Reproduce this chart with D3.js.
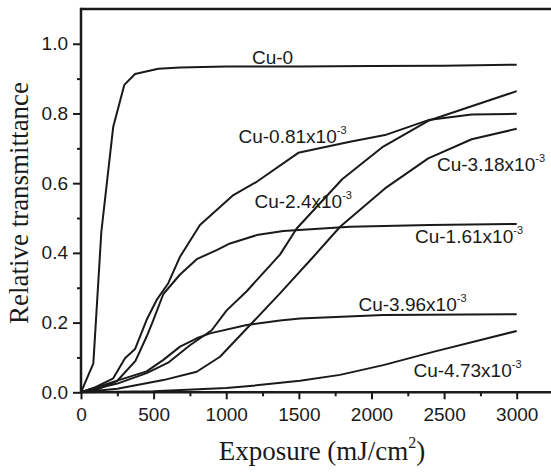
<!DOCTYPE html>
<html>
<head>
<meta charset="utf-8">
<script src="https://cdn.jsdelivr.net/npm/d3@7"></script>
<style>
  html, body { margin: 0; padding: 0; background: #fff; }
  svg { display: block; }
</style>
</head>
<body>
<svg id="chart" width="551" height="472"></svg>
<script>
// ---- Data ----
const seriesNames = ["Cu-0", "Cu-0.81", "Cu-1.61", "Cu-2.4", "Cu-3.18", "Cu-3.96", "Cu-4.73"];

const cu0_x = [0, 85, 140, 222, 298, 372, 532, 682, 1000, 1500, 2000, 2500, 3000];
const cu0_y = [0, 0.083, 0.46, 0.762, 0.882, 0.913, 0.928, 0.932, 0.935, 0.935, 0.936, 0.937, 0.94];

const cu081_x = [0, 100, 222, 303, 372, 452, 521, 601, 682, 819, 1049, 1210, 1496, 1852, 2093, 2391, 2690, 3000];
const cu081_y = [0, 0.015, 0.04, 0.098, 0.124, 0.208, 0.265, 0.313, 0.389, 0.48, 0.566, 0.604, 0.687, 0.719, 0.738, 0.781, 0.797, 0.799];

const cu161_x = [0, 125, 250, 375, 452, 498, 567, 682, 797, 934, 1026, 1210, 1393, 1852, 2400, 3000];
const cu161_y = [0, 0.01, 0.033, 0.09, 0.16, 0.207, 0.282, 0.338, 0.382, 0.408, 0.427, 0.451, 0.463, 0.475, 0.48, 0.483];

const cu24_x = [0, 250, 452, 600, 750, 900, 1003, 1141, 1210, 1370, 1485, 1800, 2081, 2391, 3000];
const cu24_y = [0, 0.025, 0.055, 0.085, 0.135, 0.178, 0.235, 0.29, 0.322, 0.395, 0.47, 0.612, 0.705, 0.779, 0.864];

const cu318_x = [0, 250, 567, 797, 957, 1187, 1370, 1600, 1784, 2093, 2391, 2690, 3000];
const cu318_y = [0, 0.01, 0.035, 0.059, 0.102, 0.203, 0.284, 0.389, 0.475, 0.585, 0.671, 0.726, 0.756];

const cu396_x = [0, 222, 452, 567, 682, 797, 888, 1141, 1370, 1508, 2082, 3000];
const cu396_y = [0, 0.03, 0.06, 0.093, 0.131, 0.155, 0.169, 0.193, 0.206, 0.212, 0.222, 0.224];

const cu473_x = [0, 500, 1000, 1163, 1508, 1783, 2081, 2425, 3000];
const cu473_y = [0, 0.003, 0.012, 0.018, 0.033, 0.05, 0.078, 0.116, 0.176];

const xTickValues = [0, 500, 1000, 1500, 2000, 2500, 3000];
const xMinorTicks = [250, 750, 1250, 1750, 2250, 2750];
const yTickValues = [0.0, 0.2, 0.4, 0.6, 0.8, 1.0];
const yMinorTicks = [0.1, 0.3, 0.5, 0.7, 0.9];

const labelMain = ["Cu-0", "Cu-0.81x10", "Cu-2.4x10", "Cu-3.18x10", "Cu-1.61x10", "Cu-3.96x10", "Cu-4.73x10"];
const labelSup  = ["", "-3", "-3", "-3", "-3", "-3", "-3"];

// ---- Layout (pixel positions of annotations) ----
const labelPos = [[252, 63.5], [238.5, 142.7], [254.5, 208.3], [437, 170.7], [415, 242.7], [358.5, 311], [413.5, 376.7]];

const series = [
  [cu0_x, cu0_y], [cu081_x, cu081_y], [cu161_x, cu161_y], [cu24_x, cu24_y],
  [cu318_x, cu318_y], [cu396_x, cu396_y], [cu473_x, cu473_y]
].map(([xs, ys]) => xs.map((v, i) => [v, ys[i]]));

const svg = d3.select("#chart");
const x = d3.scaleLinear().domain([0, 3300]).range([81, 81 + 3300 * 0.14524]);
const y = d3.scaleLinear().domain([0, 1.1]).range([392.3, 8.9]);

const sans = "'Liberation Sans', Arial, Helvetica, sans-serif";
const serif = "'Liberation Serif', 'Times New Roman', serif";
const ink = "#1a1a1a";

// Curves
const line = d3.line().x(d => x(d[0])).y(d => y(d[1])).curve(d3.curveLinear);
svg.append("g").selectAll("path").data(series).join("path")
  .attr("d", line).attr("fill", "none").attr("stroke", ink)
  .attr("stroke-width", 2).attr("stroke-linejoin", "round");

// X axis
svg.append("g").attr("transform", `translate(0,${y(0)})`)
  .call(d3.axisBottom(x).tickValues(xTickValues).tickFormat(d3.format("d")).tickSize(7).tickPadding(8));
svg.append("g").attr("transform", `translate(0,${y(0)})`)
  .call(d3.axisBottom(x).tickValues(xMinorTicks).tickFormat("").tickSize(4));

// Y axis
svg.append("g").attr("transform", `translate(${x(0)},0)`)
  .call(d3.axisLeft(y).tickValues(yTickValues).tickFormat(d3.format(".1f")).tickSize(8).tickPadding(5));
svg.append("g").attr("transform", `translate(${x(0)},0)`)
  .call(d3.axisLeft(y).tickValues(yMinorTicks).tickFormat("").tickSize(4));

svg.selectAll(".tick line").attr("stroke", ink).attr("stroke-width", 2);
svg.selectAll(".domain").remove();
svg.append("line").attr("x1", x(0)).attr("x2", 551).attr("y1", y(0)).attr("y2", y(0))
  .attr("stroke", ink).attr("stroke-width", 2.5);
svg.append("line").attr("x1", x(0)).attr("x2", x(0)).attr("y1", y(0) + 1.2).attr("y2", y(1.1) - 1.2)
  .attr("stroke", ink).attr("stroke-width", 2.5);
svg.append("line").attr("x1", x(0)).attr("x2", 551).attr("y1", y(1.1)).attr("y2", y(1.1))
  .attr("stroke", ink).attr("stroke-width", 2.5);

svg.selectAll(".tick text").attr("font-family", sans).attr("font-size", 19).attr("fill", ink);

// Axis titles
const xt = svg.append("text").attr("x", 322).attr("y", 460).attr("text-anchor", "middle")
  .attr("font-family", serif).attr("font-size", 27).attr("fill", ink);
xt.append("tspan").text("Exposure (mJ/cm");
xt.append("tspan").attr("font-size", 16).attr("dy", -12).text("2");
xt.append("tspan").attr("dy", 12).text(")");

svg.append("text").attr("transform", "translate(28,203) rotate(-90)").attr("text-anchor", "middle")
  .attr("font-family", serif).attr("font-size", 27).attr("fill", ink)
  .text("Relative transmittance");

// Curve labels
labelMain.forEach((t, i) => {
  const txt = svg.append("text").attr("x", labelPos[i][0]).attr("y", labelPos[i][1])
    .attr("font-family", sans).attr("font-size", 19).attr("fill", ink);
  txt.append("tspan").text(t);
  if (labelSup[i]) txt.append("tspan").attr("font-size", 11).attr("dy", -9).text(labelSup[i]);
});
</script>
</body>
</html>
